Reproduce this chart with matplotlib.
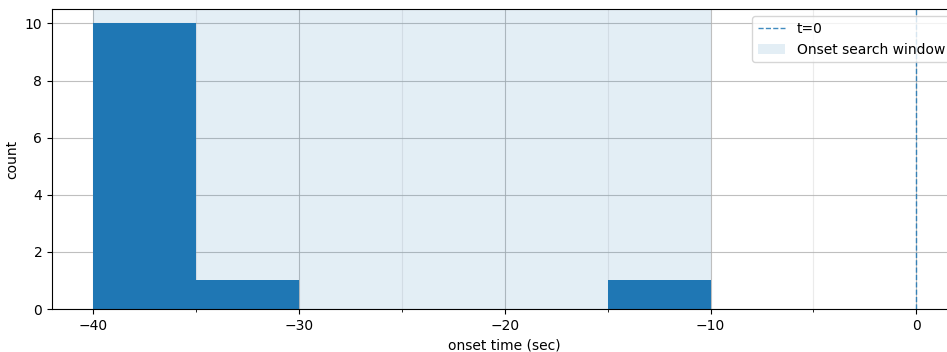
import matplotlib
matplotlib.use("Agg")
import matplotlib.pyplot as plt
from matplotlib.ticker import MultipleLocator

# onset time histogram (5 s bins) and the search window
bin_edges = [-40, -35, -30, -25, -20, -15, -10]
counts = [10, 1, 0, 0, 0, 1]
window = (-40, -10)
t_zero = 0


def main():
    fig = plt.figure(figsize=(9.47, 3.52), dpi=100)
    ax = fig.add_axes([0.055, 0.122, 0.956, 0.852])

    ax.hist(bin_edges[:-1], bins=bin_edges, weights=counts, color="tab:blue")
    ax.axvline(t_zero, ls="--", lw=1, color="tab:blue", alpha=0.85, label="t=0")
    ax.axvspan(window[0], window[1], color="tab:blue", alpha=0.12,
               lw=0, label="Onset search window")

    ax.set_xlim(-42, 2)
    ax.set_ylim(0, 10.5)
    ax.xaxis.set_major_locator(MultipleLocator(10))
    ax.xaxis.set_minor_locator(MultipleLocator(5))
    ax.set_axisbelow(True)
    ax.grid(which="major", color="#b0b0b0", lw=0.8, alpha=0.8)
    ax.grid(which="minor", axis="x", color="#b0b0b0", lw=0.8, alpha=0.25)

    ax.set_xlabel("onset time (sec)")
    ax.set_ylabel("count")
    ax.legend(loc="upper right")

    fig.savefig("out.png", dpi=100)
    plt.close(fig)


if __name__ == "__main__":
    main()
